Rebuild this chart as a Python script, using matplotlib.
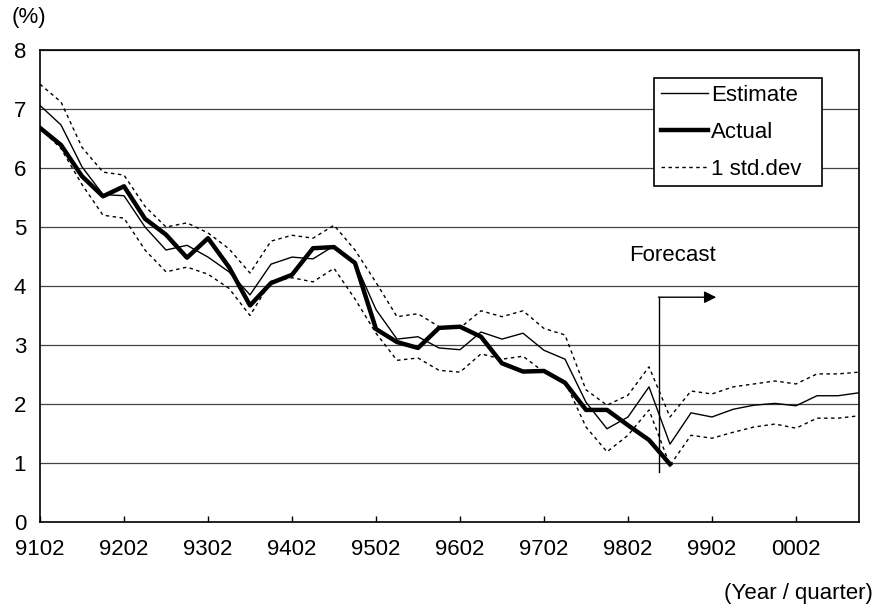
import matplotlib
matplotlib.use("Agg")
import matplotlib.pyplot as plt
import numpy as np

plt.rcParams['font.family'] = ['Liberation Sans', 'DejaVu Sans']

# quarters 9102 .. 0004 (40 quarters)
tick_labels = ["9102", "9202", "9302", "9402", "9502", "9602", "9702", "9802", "9902", "0002"]

actual = [6.68, 6.39, 5.86, 5.52, 5.69, 5.14, 4.87, 4.48, 4.81, 4.32,
          3.67, 4.05, 4.19, 4.64, 4.66, 4.39, 3.27, 3.05, 2.95, 3.29,
          3.31, 3.14, 2.69, 2.55, 2.56, 2.36, 1.90, 1.90, 1.64, 1.39,
          0.98]

estimate = [7.06, 6.73, 6.02, 5.55, 5.53, 5.00, 4.61, 4.69, 4.49, 4.24,
            3.85, 4.37, 4.49, 4.46, 4.68, 4.40, 3.60, 3.10, 3.14, 2.95,
            2.92, 3.22, 3.10, 3.20, 2.91, 2.76, 2.03, 1.58, 1.78, 2.29,
            1.32, 1.85, 1.78, 1.91, 1.98, 2.01, 1.97, 2.14, 2.14, 2.19]

upper = [7.42, 7.12, 6.35, 5.93, 5.88, 5.35, 5.00, 5.07, 4.90, 4.63,
         4.22, 4.76, 4.86, 4.81, 5.03, 4.61, 4.06, 3.48, 3.53, 3.31,
         3.29, 3.58, 3.48, 3.58, 3.28, 3.17, 2.24, 1.98, 2.15, 2.63,
         1.78, 2.22, 2.17, 2.29, 2.34, 2.39, 2.34, 2.51, 2.51, 2.54]

lower = [6.68, 6.33, 5.72, 5.20, 5.15, 4.61, 4.24, 4.32, 4.20, 3.96,
         3.50, 4.08, 4.14, 4.07, 4.30, 3.78, 3.20, 2.74, 2.78, 2.57,
         2.54, 2.85, 2.76, 2.81, 2.54, 2.38, 1.61, 1.19, 1.47, 1.90,
         0.96, 1.47, 1.42, 1.52, 1.61, 1.66, 1.59, 1.76, 1.76, 1.80]

fig = plt.figure(figsize=(8.77, 6.14), dpi=100)
ax = fig.add_axes([40/877, 1-522/614, (859-40)/877, (522-50)/614])

x_est = np.arange(len(estimate))
x_act = np.arange(len(actual))

ax.plot(x_est, upper, color='black', lw=1.0, ls=(0, (2.5, 2.5)), label='1 std.dev')
ax.plot(x_est, lower, color='black', lw=1.0, ls=(0, (2.5, 2.5)))
ax.plot(x_est, estimate, color='black', lw=1.0, label='Estimate')
ax.plot(x_act, actual, color='black', lw=3.2, label='Actual', solid_joinstyle='round')

ax.set_xlim(0, len(estimate) - 1)
ax.set_ylim(0, 8)
ax.set_yticks(range(0, 9))
ax.set_xticks(np.arange(0, len(estimate), 4))
ax.set_xticklabels(tick_labels)
ax.tick_params(axis='x', direction='in', length=4, width=1, pad=12, labelsize=16)
ax.tick_params(axis='y', length=0, pad=10, labelsize=16)
ax.grid(axis='y', color='#444444', lw=0.9)
ax.set_axisbelow(True)
for s in ax.spines.values():
    s.set_linewidth(1.2)

# legend (box spans x 654-822 px)
h, l = ax.get_legend_handles_labels()
order = [l.index('Estimate'), l.index('Actual'), l.index('1 std.dev')]
leg = ax.legend([h[i] for i in order], [l[i] for i in order], loc='upper left',
                bbox_to_anchor=((654-40)/819, 1-(78-50)/472, (822-654)/819, 0.0),
                mode='expand', fontsize=16,
                frameon=True, fancybox=False, edgecolor='black', framealpha=1,
                handlelength=2.15, handletextpad=0.1, borderpad=0.3, labelspacing=0.72,
                borderaxespad=0)
leg.get_frame().set_linewidth(1.2)

# forecast marker
ax.plot([29.5, 29.5], [0.85, 3.81], color='black', lw=1.0)
ax.annotate('', xy=(32.2, 3.81), xytext=(29.45, 3.81),
            arrowprops=dict(arrowstyle='-|>', color='black', lw=1.0, mutation_scale=18,
                            shrinkA=0, shrinkB=0))
ax.text(30.1, 4.52, 'Forecast', ha='center', va='center', fontsize=16)

fig.text(12/877, 1-18/614, '(%)', ha='left', va='center', fontsize=16)
fig.text(873/877, 1-593/614, '(Year / quarter)', ha='right', va='center', fontsize=16)

fig.savefig('out.png', dpi=100)
